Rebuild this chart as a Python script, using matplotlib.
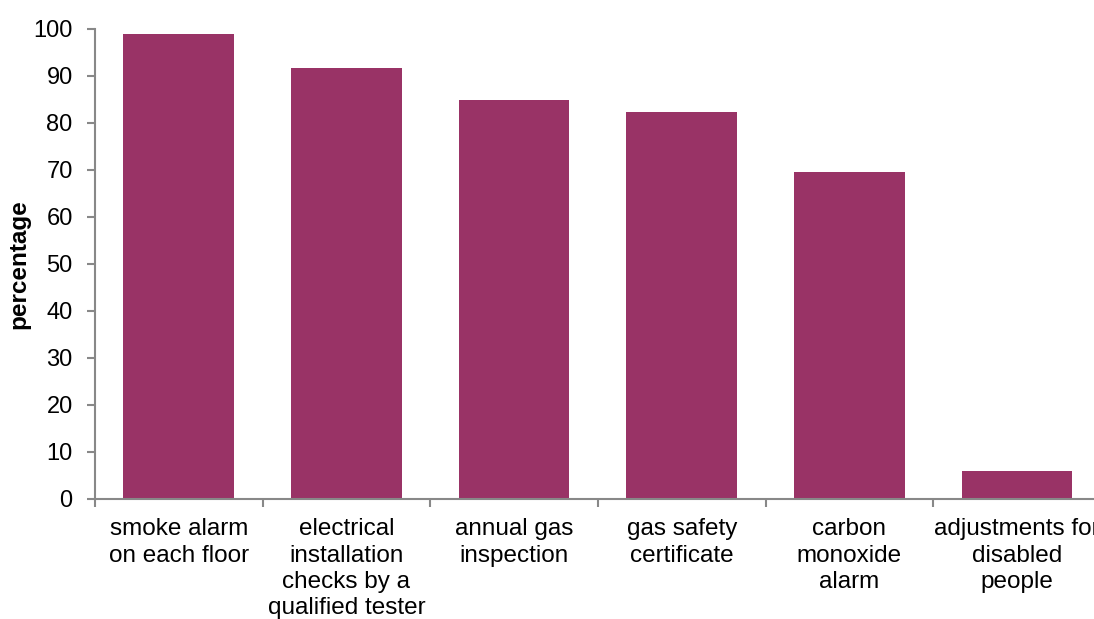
import numpy as np
import matplotlib.pyplot as plt

plt.rcParams['font.family'] = ['Liberation Sans', 'DejaVu Sans']

# категорії та значення (відсотки)
categories = ['smoke alarm\non each floor',
              'electrical\ninstallation\nchecks by a\nqualified tester',
              'annual gas\ninspection',
              'gas safety\ncertificate',
              'carbon\nmonoxide\nalarm',
              'adjustments for\ndisabled\npeople']
values = [99.0, 91.6, 84.8, 82.3, 69.5, 6.0]

fig = plt.figure(figsize=(10.94, 6.19), dpi=100)
ax = fig.add_axes([0.0868, 0.1939, 0.9196, 0.7593])

x = np.arange(len(categories))
ax.bar(x, values, width=0.66, color='#993366', zorder=2)

ax.set_xlim(-0.5, len(categories) - 0.5)
ax.set_ylim(0, 100)
ax.set_yticks(np.arange(0, 101, 10))
ax.set_xticks(x)
ax.set_xticklabels(categories, fontsize=17.5, linespacing=1.24)
ax.set_xticks(np.arange(-0.5, len(categories), 1), minor=True)
ax.tick_params(axis='x', which='major', length=0, pad=14)
ax.tick_params(axis='x', which='minor', length=6, width=1.5, color='#888888')
ax.tick_params(axis='y', length=6, width=1.5, color='#888888', labelsize=17, pad=10)

ax.set_ylabel('percentage', fontsize=17.5, fontweight='bold', labelpad=2)

for side in ['top', 'right']:
    ax.spines[side].set_visible(False)
for side in ['left', 'bottom']:
    ax.spines[side].set_color('#888888')
    ax.spines[side].set_linewidth(1.5)

fig.savefig('out.png', dpi=100)
